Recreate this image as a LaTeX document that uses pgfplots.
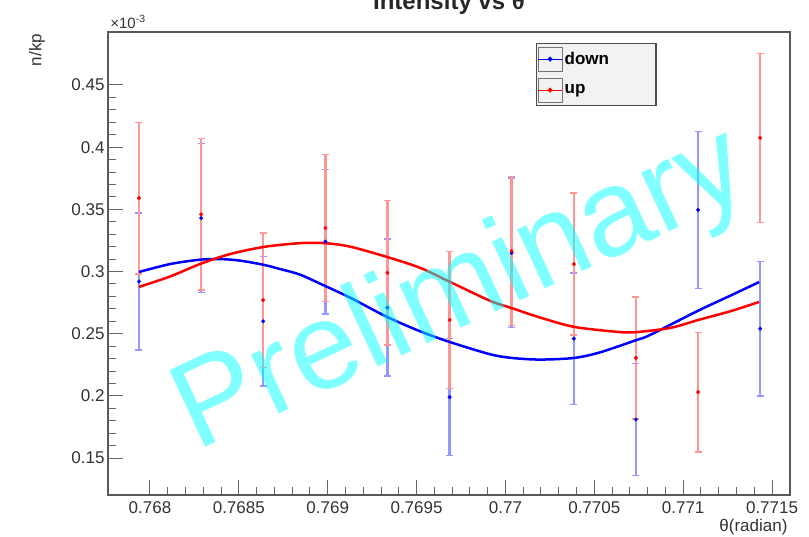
\documentclass[border=0pt]{standalone}
\usepackage{pgfplots}
\usepackage{pgfplotstable}
\pgfplotsset{compat=1.18}
\usepackage{fontspec}
\setmainfont{Liberation Sans}
\definecolor{wm}{RGB}{0,255,255}
\definecolor{bbar}{RGB}{150,150,255}
\definecolor{rbar}{RGB}{255,150,150}

\pgfplotstableread{
x y err
0.767938 0.292 0.055
0.768288 0.343 0.060
0.768637 0.260 0.052
0.768987 0.324 0.058
0.769336 0.271 0.055
0.769686 0.199 0.047
0.770035 0.315 0.060
0.770385 0.246 0.053
0.770734 0.181 0.045
0.771084 0.3495 0.063
0.771433 0.254 0.054
}\downdata

\pgfplotstableread{
x y err
0.767938 0.359 0.061
0.768288 0.346 0.061
0.768637 0.277 0.054
0.768987 0.335 0.059
0.769336 0.299 0.058
0.769686 0.261 0.055
0.770035 0.3165 0.060
0.770385 0.306 0.057
0.770734 0.2305 0.049
0.771084 0.203 0.048
0.771433 0.4075 0.068
}\updata

\pgfplotstableread{
x y
0.767938 0.2996
0.768113 0.3060
0.768281 0.3095
0.768394 0.3100
0.768506 0.3088
0.768642 0.3053
0.768732 0.3020
0.768844 0.2975
0.768985 0.2884
0.769126 0.2790
0.769334 0.2635
0.769519 0.2520
0.769683 0.2435
0.769913 0.2335
0.770037 0.2305
0.770195 0.2292
0.770386 0.2305
0.770532 0.2350
0.770729 0.2445
0.770814 0.2490
0.771084 0.2685
0.771264 0.2805
0.771427 0.2915
}\downfit

\pgfplotstableread{
x y
0.767938 0.2876
0.768113 0.2960
0.768281 0.3060
0.768450 0.3140
0.768642 0.3198
0.768844 0.3228
0.768985 0.3228
0.769126 0.3200
0.769334 0.3117
0.769519 0.3030
0.769683 0.2920
0.769913 0.2765
0.770037 0.2705
0.770195 0.2630
0.770386 0.2555
0.770628 0.2515
0.770729 0.2512
0.770926 0.2546
0.771084 0.2610
0.771264 0.2680
0.771427 0.2755
}\upfit

\begin{document}
\begin{tikzpicture}
\useasboundingbox (-108pt,-41pt) rectangle (701pt,495pt);
\begin{axis}[
  at={(0pt,0pt)}, anchor=south west,
  width=682pt, height=463pt, scale only axis,
  xmin=0.767764, xmax=0.771601,
  ymin=0.1203, ymax=0.4926,
  xtick={0.768,0.7685,0.769,0.7695,0.77,0.7705,0.771,0.7715},
  xticklabels={0.768,0.7685,0.769,0.7695,0.77,0.7705,0.771,0.7715},
  ytick={0.15,0.2,0.25,0.3,0.35,0.4,0.45},
  yticklabels={0.15,0.2,0.25,0.3,0.35,0.4,0.45},
  minor x tick num=4, minor y tick num=4,
  xtick pos=bottom, ytick pos=left,
  tick align=inside,
  major tick length=15pt, minor tick length=8pt,
  tick style={black!60, line width=1pt},
  axis line style={black!65, line width=1.5pt},
  ticklabel style={font=\fontsize{17}{20}\selectfont, text=black!80},
  xticklabel style={yshift=-3pt},
  legend style={at={(0.6276,0.9762)}, anchor=north west,
    draw=black!70, fill=black!5, line width=1.2pt,
    inner xsep=1pt, inner ysep=3pt, row sep=6pt,
    font=\bfseries\fontsize{17}{20}\selectfont, text=black},
  legend cell align=left,
]
\addplot[forget plot, only marks, mark=*, mark size=1.8pt, blue,
  error bars/.cd, y dir=both, y explicit,
  error bar style={bbar, line width=2.4pt},
  error mark options={bbar, rotate=90, mark size=3.5pt, line width=1.5pt}]
  table[x=x, y=y, y error=err] {\downdata};
\addplot[forget plot, only marks, mark=*, mark size=1.8pt, red,
  error bars/.cd, y dir=both, y explicit,
  error bar style={rbar, line width=2.4pt},
  error mark options={rbar, rotate=90, mark size=3.5pt, line width=1.5pt}]
  table[x=x, y=y, y error=err] {\updata};
\addplot[forget plot, blue, line width=2.5pt, smooth, no marks] table {\downfit};
\addplot[forget plot, red, line width=2.5pt, smooth, no marks] table {\upfit};
\addlegendimage{legend image code/.code={
  \draw[black!55, line width=1pt] (0pt,-12pt) rectangle (24pt,12pt);
  \draw[blue, line width=1pt] (0pt,0pt) -- (24pt,0pt);
  \fill[blue] (12pt,0pt) circle (1.8pt);}}
\addlegendentry{down\hspace*{44pt}}
\addlegendimage{legend image code/.code={
  \draw[black!55, line width=1pt] (0pt,-12pt) rectangle (24pt,12pt);
  \draw[red, line width=1pt] (0pt,0pt) -- (24pt,0pt);
  \fill[red] (12pt,0pt) circle (1.8pt);}}
\addlegendentry{up}
\end{axis}
\node[rotate=25, text=wm, text opacity=0.5, font=\fontsize{123}{123}\selectfont] at (354pt,202pt) {Preliminary};
\node[anchor=base, font=\bfseries\fontsize{24}{24}\selectfont, text=black!85] at (341pt,485pt) {Intensity vs θ};
\node[rotate=90, font=\fontsize{17}{20}\selectfont, text=black!80] at (-71pt,445pt) {n/kp};
\node[font=\fontsize{15}{18}\selectfont, text=black!80] at (20pt,473pt) {×10\textsuperscript{-3}};
\node[anchor=east, font=\fontsize{17}{20}\selectfont, text=black!80] at (683pt,-32pt) {θ(radian)};
\end{tikzpicture}
\end{document}
